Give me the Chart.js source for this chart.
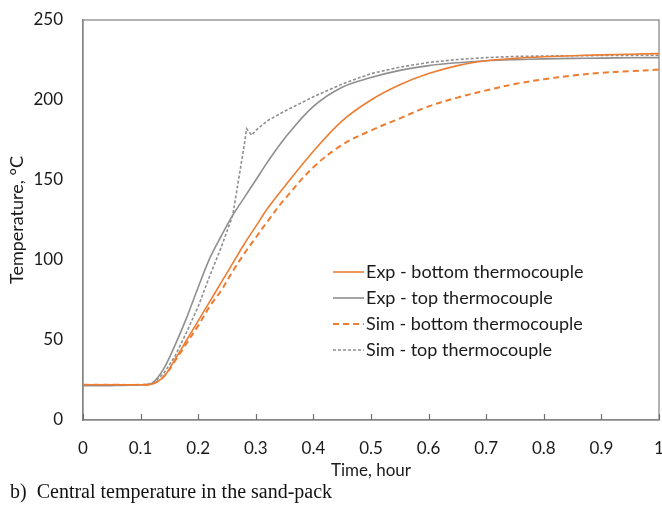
<!DOCTYPE html>
<html>
<head>
<meta charset="utf-8">
<script src="https://cdn.jsdelivr.net/npm/chart.js@4.4.1/dist/chart.umd.min.js"></script>
<style>
  html, body { margin: 0; padding: 0; background: #ffffff; }
  #wrap { position: relative; width: 662px; height: 507px; }
  #c { position: absolute; left: 0; top: 0; }
  #caption { position: absolute; left: 10px; top: 480px; font-family: "Liberation Serif", "Times New Roman", serif; font-size: 20px; color: #111; white-space: pre; }
</style>
</head>
<body>
<div id="wrap">
  <canvas id="c" width="662" height="507"></canvas>
  <div id="caption">b)  Central temperature in the sand-pack</div>
</div>
<script>
// ---- data ----
const timeMain = [0, 0.05, 0.1, 0.12, 0.14, 0.16, 0.18, 0.2, 0.22, 0.24, 0.26, 0.28, 0.3, 0.32, 0.35, 0.4, 0.45, 0.5, 0.55, 0.6, 0.65, 0.7, 0.75, 0.8, 0.85, 0.9, 0.95, 1.0];
const expBottom = [22, 22, 22, 22.5, 27, 38, 50, 62, 74, 86, 98, 110, 121, 132, 146, 168, 187, 200, 209.5, 216.5, 221.5, 224.5, 226, 227, 227.7, 228.2, 228.6, 229];
const expTop    = [21.5, 21.5, 22, 23, 32, 47, 64, 83, 101, 115, 128, 139, 150, 161, 176, 196, 208, 214, 218.5, 221.5, 223.3, 224.5, 225.2, 225.7, 226, 226.2, 226.4, 226.5];
const simBottom = [22, 22, 22, 22.5, 27, 37, 48, 59, 71, 81, 93, 104, 114, 124, 138, 158, 172, 181, 188.5, 196, 201.5, 206, 210, 213, 215.3, 217, 218, 219];
const timeSimTop = [0, 0.05, 0.1, 0.12, 0.14, 0.16, 0.18, 0.2, 0.22, 0.24, 0.26, 0.27, 0.28, 0.284, 0.293, 0.3, 0.32, 0.35, 0.4, 0.45, 0.5, 0.55, 0.6, 0.65, 0.7, 0.75, 0.8, 0.9, 1.0];
const simTop    = [22, 22, 22, 22.5, 29, 40, 55, 71, 90, 108, 128, 150, 172, 182, 178, 181, 187, 193, 202, 210, 216.5, 220.5, 223.5, 225.3, 226.5, 227.2, 227.5, 227.8, 228];
const seriesLabels = ["Exp - bottom thermocouple", "Exp - top thermocouple", "Sim - bottom thermocouple", "Sim - top thermocouple"];
const xTicks = [0, 0.1, 0.2, 0.3, 0.4, 0.5, 0.6, 0.7, 0.8, 0.9, 1];
const yTicks = [0, 50, 100, 150, 200, 250];

const ORANGE = "#ED7D31";
const GRAY = "#8f8f8f";
const FONT = "Lato, 'Open Sans', sans-serif";

const pts = (xs, ys) => xs.map((x, i) => ({ x: x, y: ys[i] }));

const frameAndTicks = {
  id: "frameAndTicks",
  beforeDatasetsDraw(chart) {
    const { ctx, chartArea: a, scales } = chart;
    ctx.save();
    ctx.strokeStyle = "#8a8a8a";
    ctx.lineWidth = 1.3;
    ctx.strokeRect(a.left, a.top, a.right - a.left, a.bottom - a.top);
    ctx.strokeStyle = "#6f6f6f";
    ctx.lineWidth = 1.2;
    xTicks.forEach(v => {
      const px = Math.round(scales.x.getPixelForValue(v)) + 0.5;
      ctx.beginPath();
      ctx.moveTo(px, a.bottom);
      ctx.lineTo(px, a.bottom - 6);
      ctx.stroke();
    });
    ctx.restore();
  }
};

const customLegend = {
  id: "customLegend",
  afterDatasetsDraw(chart) {
    const { ctx, chartArea: a } = chart;
    const x0 = a.left + 250, y0 = 272, gap = 26, lineLen = 31;
    ctx.save();
    ctx.font = "18px " + FONT;
    ctx.textBaseline = "middle";
    ctx.fillStyle = "#1a1a1a";
    chart.data.datasets.forEach((ds, i) => {
      const y = y0 + i * gap;
      ctx.strokeStyle = ds.borderColor;
      ctx.lineWidth = ds.borderWidth;
      ctx.setLineDash(ds.borderDash || []);
      ctx.beginPath();
      ctx.moveTo(x0, y);
      ctx.lineTo(x0 + lineLen, y);
      ctx.stroke();
      ctx.setLineDash([]);
      ctx.fillText(ds.label, x0 + lineLen + 2, y);
    });
    ctx.restore();
  }
};

new Chart(document.getElementById("c"), {
  type: "line",
  data: {
    datasets: [
      { label: seriesLabels[0], data: pts(timeMain, expBottom), borderColor: ORANGE, borderWidth: 1.6, pointRadius: 0, tension: 0.35, fill: false },
      { label: seriesLabels[1], data: pts(timeMain, expTop), borderColor: GRAY, borderWidth: 1.6, pointRadius: 0, tension: 0.35, fill: false },
      { label: seriesLabels[2], data: pts(timeMain, simBottom), borderColor: ORANGE, borderWidth: 2, borderDash: [6, 4], pointRadius: 0, tension: 0.35, fill: false },
      { label: seriesLabels[3], data: pts(timeSimTop, simTop), borderColor: GRAY, borderWidth: 1.6, borderDash: [3, 2], pointRadius: 0, tension: 0, fill: false }
    ]
  },
  options: {
    responsive: false,
    animation: false,
    layout: { padding: { left: 0, right: 3, top: 20, bottom: 24 } },
    plugins: { legend: { display: false }, tooltip: { enabled: false }, title: { display: false } },
    scales: {
      x: {
        type: "linear", min: 0, max: 1,
        afterBuildTicks: s => { s.ticks = xTicks.map(v => ({ value: v })); },
        afterFit: s => { s.height = 63; s.paddingLeft = 0; s.paddingRight = 0; },
        grid: { display: false, drawTicks: false },
        border: { display: true, color: "#7a7a7a", width: 1.3 },
        ticks: { padding: 18, color: "#1a1a1a", font: { family: FONT, size: 17 }, maxRotation: 0, callback: v => String(Number(v.toFixed(1))) },
        title: { display: true, text: "Time, hour", color: "#1a1a1a", font: { family: FONT, size: 17 }, padding: { top: 0, bottom: 2 } }
      },
      y: {
        type: "linear", min: 0, max: 250,
        afterBuildTicks: s => { s.ticks = yTicks.map(v => ({ value: v })); },
        afterFit: s => { s.width = 83; s.paddingTop = 0; s.paddingBottom = 0; },
        grid: { display: false, drawTicks: false },
        border: { display: true, color: "#7a7a7a", width: 1.3 },
        ticks: { padding: 20, color: "#1a1a1a", font: { family: FONT, size: 17 } },
        title: { display: true, text: "Temperature, °C", color: "#1a1a1a", font: { family: FONT, size: 18 }, padding: { top: 6, bottom: 0 } }
      }
    }
  },
  plugins: [frameAndTicks, customLegend]
});
</script>
</body>
</html>
